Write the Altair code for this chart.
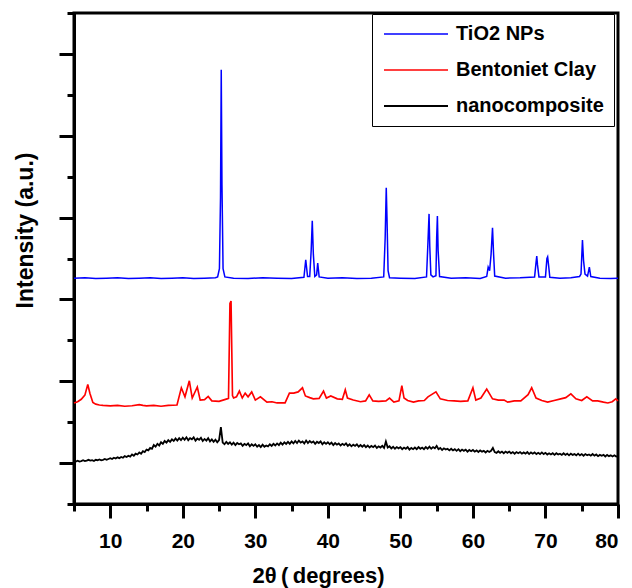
import altair as alt
import pandas as pd

series_names = ["TiO2 NPs", "Bentoniet Clay", "nanocomposite"]
series_colors = ["#0000FF", "#FF0000", "#000000"]
series_widths = [1.5, 1.8, 2.8]

x_ticks = [5, 10, 15, 20, 25, 30, 35, 40, 45, 50, 55, 60, 65, 70, 75, 80]
y_ticks = [0, 1, 2, 3, 4, 5, 6, 7, 8, 9, 10, 11, 12]

tio2_x = [5.0, 6.5, 8.0, 9.5, 11.0, 12.5, 14.0, 15.5, 17.0, 18.5, 20.0, 21.5, 23.0, 24.5,
          24.8, 25.05, 25.2, 25.3, 25.4, 25.55, 25.8, 27.0, 29.0, 31.0, 33.0, 35.0, 36.7,
          36.95, 37.2, 37.5, 37.7, 37.85, 38.0, 38.2, 38.45, 38.6, 38.8, 40.0, 42.0, 44.0,
          46.0, 47.7, 47.9, 48.05, 48.15, 48.3, 48.5, 50.0, 52.0, 53.6, 53.8, 53.95, 54.05,
          54.2, 54.5, 54.9, 55.0, 55.1, 55.2, 55.4, 57.0, 59.0, 61.0, 61.9, 62.1, 62.3,
          62.5, 62.7, 62.85, 63.0, 64.5, 66.5, 68.5, 68.7, 68.8, 68.9, 69.1, 70.0, 70.2,
          70.3, 70.45, 70.6, 72.0, 73.5, 74.7, 74.9, 75.1, 75.25, 75.45, 75.8, 76.05,
          76.25, 77.5, 79.0, 80.0]
tio2_y = [5.52, 5.53, 5.51, 5.52, 5.53, 5.51, 5.52, 5.53, 5.51, 5.52, 5.53, 5.51, 5.52, 5.53,
          5.55, 5.75, 7.5, 10.61, 7.8, 5.75, 5.55, 5.52, 5.51, 5.53, 5.52, 5.51, 5.54,
          5.97, 5.56, 5.56, 6.2, 6.92, 6.1, 5.56, 5.6, 5.89, 5.55, 5.52, 5.53, 5.51,
          5.52, 5.55, 6.5, 7.73, 7.0, 5.7, 5.53, 5.52, 5.51, 5.55, 6.4, 7.09, 6.3,
          5.6, 5.55, 5.58, 6.5, 7.04, 6.2, 5.56, 5.52, 5.53, 5.51, 5.56, 5.79, 5.7,
          6.1, 6.75, 6.1, 5.57, 5.52, 5.53, 5.55, 5.9, 6.06, 5.85, 5.55, 5.55, 6.0,
          6.04, 5.8, 5.54, 5.52, 5.53, 5.56, 5.62, 6.45, 5.95, 5.62, 5.57, 5.79,
          5.56, 5.52, 5.51, 5.52]

clay_x = [5.0, 5.5, 6.0, 6.5, 6.9, 7.2, 7.6, 8.0, 8.5, 9.0, 10.0, 11.0, 12.0, 13.0, 14.0,
          14.5, 15.0, 16.0, 17.0, 18.0, 19.2, 19.8, 20.3, 20.9, 21.3, 22.0, 22.4, 23.0,
          23.5, 24.0, 25.0, 26.1, 26.3, 26.5, 26.65, 26.85, 27.0, 27.4, 27.8, 28.2, 28.6,
          29.0, 29.5, 30.0, 30.7, 31.6, 32.3, 33.0, 34.1, 34.7, 35.3, 35.9, 36.5, 36.9,
          37.5, 38.0, 38.8, 39.4, 39.8, 40.4, 41.3, 42.0, 42.4, 42.7, 43.5, 44.5, 45.2,
          45.7, 46.2, 47.0, 48.0, 48.5, 49.1, 49.8, 50.2, 50.5, 51.0, 51.8, 52.5, 53.3,
          53.8, 54.9, 55.5, 56.5, 57.4, 58.3, 59.3, 60.0, 60.4, 61.1, 61.9, 62.7, 63.5,
          64.3, 64.8, 65.7, 66.6, 67.6, 68.1, 68.7, 69.5, 70.3, 71.2, 72.1, 72.8, 73.5,
          74.2, 75.0, 75.7, 76.5, 77.2, 78.0, 78.6, 79.2, 79.7, 80.0]
clay_y = [2.47, 2.50, 2.56, 2.66, 2.92, 2.70, 2.48, 2.44, 2.42, 2.41, 2.40, 2.41, 2.39, 2.40, 2.43,
          2.41, 2.40, 2.41, 2.39, 2.41, 2.42, 2.84, 2.62, 3.01, 2.59, 2.86, 2.54, 2.55,
          2.63, 2.52, 2.51, 2.57, 2.58, 4.90, 4.96, 2.65, 2.59, 2.62, 2.76, 2.59, 2.71,
          2.62, 2.74, 2.54, 2.62, 2.49, 2.50, 2.47, 2.47, 2.71, 2.71, 2.74, 2.84, 2.64,
          2.60, 2.57, 2.58, 2.76, 2.59, 2.64, 2.57, 2.56, 2.79, 2.59, 2.54, 2.50, 2.52,
          2.67, 2.52, 2.51, 2.52, 2.59, 2.49, 2.52, 2.89, 2.59, 2.53, 2.49, 2.52, 2.53,
          2.62, 2.74, 2.57, 2.53, 2.52, 2.51, 2.52, 2.84, 2.54, 2.59, 2.81, 2.57, 2.54,
          2.54, 2.49, 2.52, 2.52, 2.67, 2.84, 2.59, 2.53, 2.49, 2.53, 2.57, 2.60, 2.69,
          2.57, 2.53, 2.62, 2.52, 2.52, 2.49, 2.47, 2.50, 2.57, 2.52]

nano_x = [
    5.00, 5.25, 5.50, 5.75, 6.00, 6.25, 6.50, 6.75, 7.00, 7.25, 7.50, 7.75, 8.00, 8.25, 8.50, 8.75, 9.00, 9.25, 9.50, 9.75,
    10.00, 10.25, 10.50, 10.75, 11.00, 11.25, 11.50, 11.75, 12.00, 12.25, 12.50, 12.75, 13.00, 13.25, 13.50, 13.75, 14.00, 14.25, 14.50, 14.75,
    15.00, 15.25, 15.50, 15.75, 16.00, 16.25, 16.50, 16.75, 17.00, 17.25, 17.50, 17.75, 18.00, 18.25, 18.50, 18.75, 19.00, 19.25, 19.50, 19.75,
    20.00, 20.25, 20.50, 20.75, 21.00, 21.25, 21.50, 21.75, 22.00, 22.25, 22.50, 22.75, 23.00, 23.25, 23.50, 23.75, 24.00, 24.25, 24.50, 24.75,
    25.00, 25.25, 25.50, 25.75, 26.00, 26.25, 26.50, 26.75, 27.00, 27.25, 27.50, 27.75, 28.00, 28.25, 28.50, 28.75, 29.00, 29.25, 29.50, 29.75,
    30.00, 30.25, 30.50, 30.75, 31.00, 31.25, 31.50, 31.75, 32.00, 32.25, 32.50, 32.75, 33.00, 33.25, 33.50, 33.75, 34.00, 34.25, 34.50, 34.75,
    35.00, 35.25, 35.50, 35.75, 36.00, 36.25, 36.50, 36.75, 37.00, 37.25, 37.50, 37.75, 38.00, 38.25, 38.50, 38.75, 39.00, 39.25, 39.50, 39.75,
    40.00, 40.25, 40.50, 40.75, 41.00, 41.25, 41.50, 41.75, 42.00, 42.25, 42.50, 42.75, 43.00, 43.25, 43.50, 43.75, 44.00, 44.25, 44.50, 44.75,
    45.00, 45.25, 45.50, 45.75, 46.00, 46.25, 46.50, 46.75, 47.00, 47.25, 47.50, 47.75, 48.00, 48.25, 48.50, 48.75, 49.00, 49.25, 49.50, 49.75,
    50.00, 50.25, 50.50, 50.75, 51.00, 51.25, 51.50, 51.75, 52.00, 52.25, 52.50, 52.75, 53.00, 53.25, 53.50, 53.75, 54.00, 54.25, 54.50, 54.75,
    55.00, 55.25, 55.50, 55.75, 56.00, 56.25, 56.50, 56.75, 57.00, 57.25, 57.50, 57.75, 58.00, 58.25, 58.50, 58.75, 59.00, 59.25, 59.50, 59.75,
    60.00, 60.25, 60.50, 60.75, 61.00, 61.25, 61.50, 61.75, 62.00, 62.25, 62.50, 62.75, 63.00, 63.25, 63.50, 63.75, 64.00, 64.25, 64.50, 64.75,
    65.00, 65.25, 65.50, 65.75, 66.00, 66.25, 66.50, 66.75, 67.00, 67.25, 67.50, 67.75, 68.00, 68.25, 68.50, 68.75, 69.00, 69.25, 69.50, 69.75,
    70.00, 70.25, 70.50, 70.75, 71.00, 71.25, 71.50, 71.75, 72.00, 72.25, 72.50, 72.75, 73.00, 73.25, 73.50, 73.75, 74.00, 74.25, 74.50, 74.75,
    75.00, 75.25, 75.50, 75.75, 76.00, 76.25, 76.50, 76.75, 77.00, 77.25, 77.50, 77.75, 78.00, 78.25, 78.50, 78.75, 79.00, 79.25, 79.50, 79.75,
    80.00]
nano_y = [
    1.05, 1.04, 1.06, 1.04, 1.05, 1.07, 1.05, 1.06, 1.08, 1.06, 1.07, 1.05, 1.08, 1.07, 1.09, 1.07, 1.08, 1.10, 1.08, 1.10,
    1.12, 1.10, 1.13, 1.11, 1.14, 1.12, 1.15, 1.13, 1.17, 1.15, 1.18, 1.16, 1.21, 1.18, 1.23, 1.21, 1.26, 1.23, 1.29, 1.27,
    1.33, 1.31, 1.37, 1.35, 1.44, 1.40, 1.47, 1.43, 1.51, 1.47, 1.54, 1.50, 1.56, 1.52, 1.58, 1.54, 1.60, 1.55, 1.61, 1.56,
    1.62, 1.57, 1.63, 1.56, 1.61, 1.58, 1.63, 1.55, 1.60, 1.57, 1.62, 1.54, 1.59, 1.55, 1.61, 1.53, 1.58, 1.52, 1.57, 1.51,
    1.56, 1.88, 1.50, 1.46, 1.52, 1.47, 1.51, 1.45, 1.50, 1.44, 1.49, 1.46, 1.48, 1.42, 1.47, 1.44, 1.48, 1.41, 1.46, 1.42,
    1.46, 1.40, 1.44, 1.39, 1.45, 1.40, 1.43, 1.41, 1.46, 1.42, 1.47, 1.43, 1.48, 1.44, 1.50, 1.45, 1.51, 1.47, 1.52, 1.47,
    1.53, 1.48, 1.54, 1.49, 1.55, 1.50, 1.53, 1.48, 1.55, 1.49, 1.54, 1.50, 1.53, 1.47, 1.52, 1.49, 1.53, 1.46, 1.51, 1.47,
    1.51, 1.46, 1.50, 1.44, 1.49, 1.45, 1.48, 1.43, 1.47, 1.44, 1.48, 1.42, 1.46, 1.41, 1.45, 1.42, 1.46, 1.40, 1.44, 1.40,
    1.44, 1.39, 1.43, 1.38, 1.42, 1.39, 1.43, 1.37, 1.41, 1.38, 1.42, 1.37, 1.53, 1.38, 1.41, 1.36, 1.40, 1.35, 1.39, 1.36,
    1.39, 1.34, 1.38, 1.35, 1.39, 1.33, 1.37, 1.34, 1.38, 1.34, 1.39, 1.35, 1.38, 1.34, 1.39, 1.35, 1.40, 1.35, 1.39, 1.36,
    1.42, 1.34, 1.37, 1.32, 1.36, 1.33, 1.35, 1.31, 1.35, 1.31, 1.34, 1.30, 1.34, 1.29, 1.33, 1.30, 1.33, 1.28, 1.32, 1.29,
    1.32, 1.28, 1.31, 1.27, 1.31, 1.28, 1.30, 1.26, 1.30, 1.27, 1.30, 1.37, 1.27, 1.25, 1.29, 1.25, 1.28, 1.24, 1.28, 1.25,
    1.28, 1.24, 1.27, 1.23, 1.27, 1.24, 1.27, 1.23, 1.26, 1.23, 1.27, 1.22, 1.26, 1.23, 1.26, 1.22, 1.25, 1.22, 1.26, 1.22,
    1.25, 1.21, 1.24, 1.21, 1.24, 1.20, 1.24, 1.21, 1.23, 1.20, 1.24, 1.20, 1.23, 1.19, 1.23, 1.20, 1.22, 1.19, 1.23, 1.19,
    1.22, 1.18, 1.22, 1.19, 1.21, 1.18, 1.22, 1.18, 1.21, 1.17, 1.20, 1.18, 1.20, 1.16, 1.20, 1.17, 1.19, 1.16, 1.19, 1.16,
    1.17]

rows = []
for name, xs, ys in zip(series_names, [tio2_x, clay_x, nano_x], [tio2_y, clay_y, nano_y]):
    for a, b in zip(xs, ys):
        rows.append({"series": name, "x": a, "y": b})
df = pd.DataFrame(rows)

FONT = "Liberation Sans"

x_axis = alt.Axis(
    values=x_ticks,
    title="2θ\u2009(\u2009degrees)",
    labelExpr="datum.value % 10 === 0 ? datum.label : ''",
    tickSize={"condition": {"test": "datum.value % 10 === 0", "value": 14}, "value": 7},
    labelPadding=12,
    titleX=244,
    titleY=71,
    titleAlign="center",
    titleBaseline="middle",
    titleFontSize=22,
)
y_axis = alt.Axis(
    values=y_ticks,
    labels=False,
    title="Intensity (a.u.)",
    tickSize={"condition": {"test": "datum.value % 2 === 1", "value": 15}, "value": 7},
    titleX=-49,
    titleY=217,
    titleAlign="center",
    titleBaseline="middle",
    titleAngle=-90,
    titleFontSize=23,
)

chart = (
    alt.Chart(df)
    .mark_line()
    .encode(
        x=alt.X("x:Q", scale=alt.Scale(domain=[5, 80], nice=False, zero=False), axis=x_axis),
        y=alt.Y("y:Q", scale=alt.Scale(domain=[0, 12], nice=False, zero=False), axis=y_axis),
        strokeWidth=alt.StrokeWidth(
            "series:N",
            scale=alt.Scale(domain=series_names, range=series_widths),
            legend=None,
        ),
        color=alt.Color(
            "series:N",
            scale=alt.Scale(domain=series_names, range=series_colors),
            legend=alt.Legend(
                orient="none",
                legendX=298,
                legendY=1,
                title=None,
                symbolType="M-4,0H4",
                symbolSize=256,
                symbolStrokeWidth=1.6,
                symbolOffset=24,
                labelFont=FONT,
                labelFontSize=20,
                labelFontWeight="bold",
                labelColor="black",
                labelOffset=30,
                strokeColor="black",
                fillColor="white",
                padding=10,
                rowPadding=16,
            ),
        ),
    )
    .properties(
        width=544,
        height=491,
        autosize=alt.AutoSizeParams(type="none"),
        padding={"left": 74, "top": 13, "right": 14, "bottom": 84},
    )
    .configure_view(stroke="black", strokeWidth=3)
    .configure_axis(
        grid=False,
        domainColor="black",
        domainWidth=3,
        tickColor="black",
        tickWidth=3,
        labelFont=FONT,
        labelFontSize=21,
        labelFontWeight="bold",
        labelColor="black",
        titleFont=FONT,
        titleFontWeight="bold",
        titleColor="black",
    )
)

chart.save("out.html", embed_options={"renderer": "svg", "actions": False})
